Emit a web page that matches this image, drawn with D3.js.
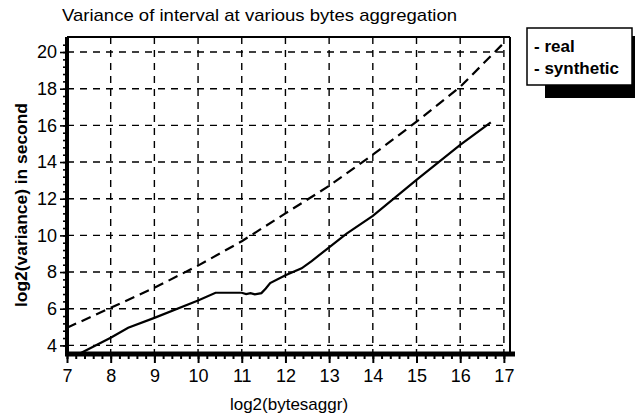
<!DOCTYPE html>
<html><head><meta charset="utf-8">
<script src="https://cdn.jsdelivr.net/npm/d3@7"></script>
<style>body{margin:0;background:#fff}svg{display:block}text{font-family:"Liberation Sans",Arial,sans-serif;fill:#000}</style>
</head><body>
<svg id="c" width="638" height="416"></svg>
<script>
const title = "Variance of interval at various bytes aggregation";
const xLabel = "log2(bytesaggr)";
const yLabel = "log2(variance) in second";
const seriesNames = ["real", "synthetic"];
const xTicks = [7,8,9,10,11,12,13,14,15,16,17];
const yTicks = [4,6,8,10,12,14,16,18,20];
const realX = [7.25,8,8.4,9,10,10.4,11.0,11.1,11.2,11.3,11.45,11.55,11.65,12,12.37,12.6,13,13.4,14,15,16,16.7];
const realY = [3.5,4.42,4.96,5.5,6.45,6.87,6.87,6.8,6.85,6.78,6.85,7.1,7.4,7.83,8.2,8.6,9.35,10.1,11.06,13.03,14.94,16.16];
const synthX = [7,8,9,10,11,12,13,14,15,16,17];
const synthY = [4.96,6.05,7.14,8.35,9.68,11.2,12.7,14.4,16.2,18.1,20.5];

const svg = d3.select("#c");
const x = d3.scaleLinear().domain([7,17.14]).range([67,510]);
const y = d3.scaleLinear().domain([3.53,20.82]).range([354,37]);

// grid
const g = svg.append("g");
g.selectAll(".vg").data(xTicks.slice(1)).enter().append("line")
  .attr("x1",d=>x(d)).attr("x2",d=>x(d)).attr("y1",y.range()[1]).attr("y2",y.range()[0])
  .attr("stroke","#000").attr("stroke-width",1.4).attr("stroke-dasharray","7,6");
g.selectAll(".hg").data(yTicks).enter().append("line")
  .attr("y1",d=>y(d)).attr("y2",d=>y(d)).attr("x1",x.range()[0]).attr("x2",x.range()[1])
  .attr("stroke","#000").attr("stroke-width",1.4).attr("stroke-dasharray","7,6");

// border top/right
svg.append("line").attr("x1",x.range()[0]).attr("x2",x.range()[1]).attr("y1",y.range()[1]).attr("y2",y.range()[1]).attr("stroke","#000").attr("stroke-width",2);
svg.append("line").attr("x1",x.range()[1]).attr("x2",x.range()[1]).attr("y1",y.range()[1]).attr("y2",y.range()[0]).attr("stroke","#000").attr("stroke-width",2);

// lines
const line = d3.line().x(d=>x(d[0])).y(d=>y(d[1]));
svg.append("path").datum(realX.map((v,i)=>[v,realY[i]])).attr("d",line)
  .attr("fill","none").attr("stroke","#000").attr("stroke-width",2.2);
svg.append("path").datum(synthX.map((v,i)=>[v,synthY[i]])).attr("d",line)
  .attr("fill","none").attr("stroke","#000").attr("stroke-width",2.2).attr("stroke-dasharray","10,6");

// axes
const xMinor = d3.range(7,17.01,0.2);
const yMinor = d3.range(4,20.8,0.4);
const xa = svg.append("g").attr("transform",`translate(0,${y.range()[0]})`);
xa.call(d3.axisBottom(x).tickValues(xMinor).tickSize(5).tickFormat(""));
xa.append("g").call(d3.axisBottom(x).tickValues(xTicks).tickSize(9).tickPadding(6).tickFormat(d3.format("d")));
xa.selectAll("path.domain").remove();
xa.selectAll("line").attr("stroke","#000").attr("stroke-width",2);
xa.selectAll("text").style("font-size","18px").style("font-family","Liberation Sans, Arial, sans-serif").attr("fill","#000");
xa.append("line").attr("x1",x.range()[0]-2).attr("x2",x.range()[1]+5).attr("y1",0).attr("y2",0).attr("stroke","#000").attr("stroke-width",5);

const ya = svg.append("g").attr("transform",`translate(${x.range()[0]},0)`);
ya.call(d3.axisLeft(y).tickValues(yMinor).tickSize(4).tickFormat(""));
ya.append("g").call(d3.axisLeft(y).tickValues(yTicks).tickSize(7).tickPadding(3).tickFormat(d3.format("d")));
ya.selectAll("path.domain").remove();
ya.selectAll("line").attr("stroke","#000").attr("stroke-width",1.6);
ya.selectAll("text").style("font-size","18px").style("font-family","Liberation Sans, Arial, sans-serif").attr("fill","#000");
ya.append("line").attr("x1",0).attr("x2",0).attr("y1",y.range()[1]).attr("y2",y.range()[0]+2).attr("stroke","#000").attr("stroke-width",4);

// title & labels
svg.append("text").attr("x",62).attr("y",21).attr("textLength",395).attr("lengthAdjust","spacingAndGlyphs")
  .style("font-size","17px").text(title);
svg.append("text").attr("x",289).attr("y",410).attr("text-anchor","middle").style("font-size","17px").text(xLabel);
svg.append("text").attr("transform","translate(27,205) rotate(-90)").attr("text-anchor","middle")
  .style("font-size","17px").style("font-weight","bold").attr("textLength",204).attr("lengthAdjust","spacingAndGlyphs").text(yLabel);

// legend
const lg = svg.append("g");
lg.append("rect").attr("x",545).attr("y",36).attr("width",90).attr("height",62).attr("fill","#000");
lg.append("rect").attr("x",527).attr("y",28).attr("width",105).attr("height",57).attr("fill","#fff").attr("stroke","#000").attr("stroke-width",1.5);
lg.selectAll("text.l").data(seriesNames).enter().append("text")
  .attr("x",534).attr("y",(d,i)=>52+i*21.5).style("font-size","17px").style("font-weight","bold")
  .text(d=>"- "+d);
</script>
</body></html>
